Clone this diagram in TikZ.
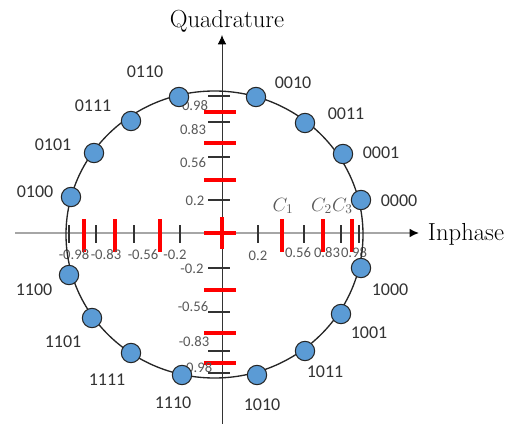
\documentclass[tikz,border=0pt]{standalone}
\usepackage{fontspec}
\newfontfamily\bitfont{Carlito}
\usepackage{xcolor}
\usepackage{tikz}
\usetikzlibrary{arrows.meta}
\definecolor{dotblue}{HTML}{5B9BD5}
\definecolor{txtgray}{HTML}{595959}

\begin{document}
\begin{tikzpicture}[x=0.75pt, y=-0.75pt,
  dot/.style={circle, draw=black!85, line width=0.8pt, fill=dotblue, minimum size=14.5pt, inner sep=0pt},
  bit/.style={font=\bitfont\fontsize{13.5}{15}\selectfont, text=black!80, inner sep=0pt},
  val/.style={font=\bitfont\fontsize{11}{13}\selectfont, text=txtgray, inner sep=0pt},
  tick/.style={black!80, line width=1.1pt},
  rtick/.style={red, line width=2.3pt},
  axis/.style={-{Latex[length=7pt, width=6.5pt, color=black]}}
]
  \useasboundingbox (0,0) rectangle (514,424);

  % axes
  \coordinate (xa) at (15,233);
  \coordinate (xb) at (419,233);
  \coordinate (ya) at (222,424);
  \coordinate (yb) at (222,35);
  \draw[axis, gray!70, line width=1.1pt] (xa) -- (xb);
  \draw[axis, black!80, line width=0.7pt] (ya) -- (yb);
  \node[font=\fontsize{18.5}{22}\selectfont, text=black, inner sep=0pt] (quad) at (227,21) {Quadrature};
  \node[font=\fontsize{18.5}{22}\selectfont, text=black, inner sep=0pt] (inph) at (466,234) {Inphase};

  % black ticks
  \draw[tick] (69,225) -- (69,243) (96,225) -- (96,243) (134,225) -- (134,243) (180,225) -- (180,243)
              (258,225) -- (258,243) (304,225) -- (304,243) (341,225) -- (341,243) (359,225) -- (359,243);
  \draw[tick] (208,96) -- (230,96) (208,122) -- (230,122) (208,157) -- (230,157) (208,200) -- (230,200)
              (208,268) -- (230,268) (208,312) -- (230,312) (208,351) -- (230,351) (208,373) -- (230,373);

  % red ticks
  \draw[rtick] (84,219) -- (84,252) (115,219) -- (115,252) (160,219) -- (160,252)
               (282,219) -- (282,252) (323,219) -- (323,252) (352,219) -- (352,252);
  \draw[rtick] (204,112) -- (236,112) (204,143) -- (236,143) (204,180) -- (236,180)
               (204,290) -- (236,290) (204,333) -- (236,333) (204,363) -- (236,363);
  \draw[rtick] (204,233) -- (236,233) (222,217) -- (222,249);

  % tick values
  \node[val] (yp98) at (195,106) {0.98};
  \node[val] (yp83) at (193,130) {0.83};
  \node[val] (yp56) at (193,163) {0.56};
  \node[val] (yp20) at (195,201) {0.2};
  \node[val] (ym20) at (192,269) {-0.2};
  \node[val] (ym56) at (193,307) {-0.56};
  \node[val] (ym83) at (194,342) {-0.83};
  \node[val] (ym98) at (197,368) {-0.98};
  \node[val] (xm98) at (74,255) {-0.98};
  \node[val] (xm83) at (106,255) {-0.83};
  \node[val] (xm56) at (143,255) {-0.56};
  \node[val] (xm20) at (175,255) {-0.2};
  \node[val] (xp20) at (258,256) {0.2};
  \node[val] (xp56) at (298,253) {0.56};
  \node[val] (xp83) at (327,253) {0.83};
  \node[val] (xp98) at (354,253) {0.98};
  \node[text=txtgray, inner sep=0pt, font=\fontsize{14}{16}\selectfont] (c1) at (283,206) {$C_1$};
  \node[text=txtgray, inner sep=0pt, font=\fontsize{14}{16}\selectfont] (c23) at (332,206) {$C_2C_3$};

  % constellation
  \draw[black!85, line width=1pt] (214.5,234.5) ellipse [x radius=148.5, y radius=143.5];

  \node[dot] (s0000) at (361,200) {};
  \node[dot] (s0001) at (343,154) {};
  \node[dot] (s0011) at (305,123) {};
  \node[dot] (s0010) at (256,97)  {};
  \node[dot] (s0110) at (179,97)  {};
  \node[dot] (s0111) at (131,121) {};
  \node[dot] (s0101) at (94,153)  {};
  \node[dot] (s0100) at (71,197)  {};
  \node[dot] (s1100) at (69,275)  {};
  \node[dot] (s1101) at (92,318)  {};
  \node[dot] (s1111) at (131,353) {};
  \node[dot] (s1110) at (182,375) {};
  \node[dot] (s1010) at (257,375) {};
  \node[dot] (s1011) at (305,351) {};
  \node[dot] (s1001) at (341,314) {};
  \node[dot] (s1000) at (361,268) {};

  \node[bit] (l0110) at (145,72)  {0110};
  \node[bit] (l0010) at (293,83)  {0010};
  \node[bit] (l0111) at (93,106)  {0111};
  \node[bit] (l0011) at (346,114) {0011};
  \node[bit] (l0101) at (53,145)  {0101};
  \node[bit] (l0001) at (381,153) {0001};
  \node[bit] (l0100) at (35,192)  {0100};
  \node[bit] (l0000) at (399,201) {0000};
  \node[bit] (l1100) at (34,290)  {1100};
  \node[bit] (l1000) at (390,290) {1000};
  \node[bit] (l1101) at (63,342)  {1101};
  \node[bit] (l1001) at (369,333) {1001};
  \node[bit] (l1111) at (107,380) {1111};
  \node[bit] (l1011) at (325,372) {1011};
  \node[bit] (l1110) at (173,403) {1110};
  \node[bit] (l1010) at (262,405) {1010};
\end{tikzpicture}
\end{document}
